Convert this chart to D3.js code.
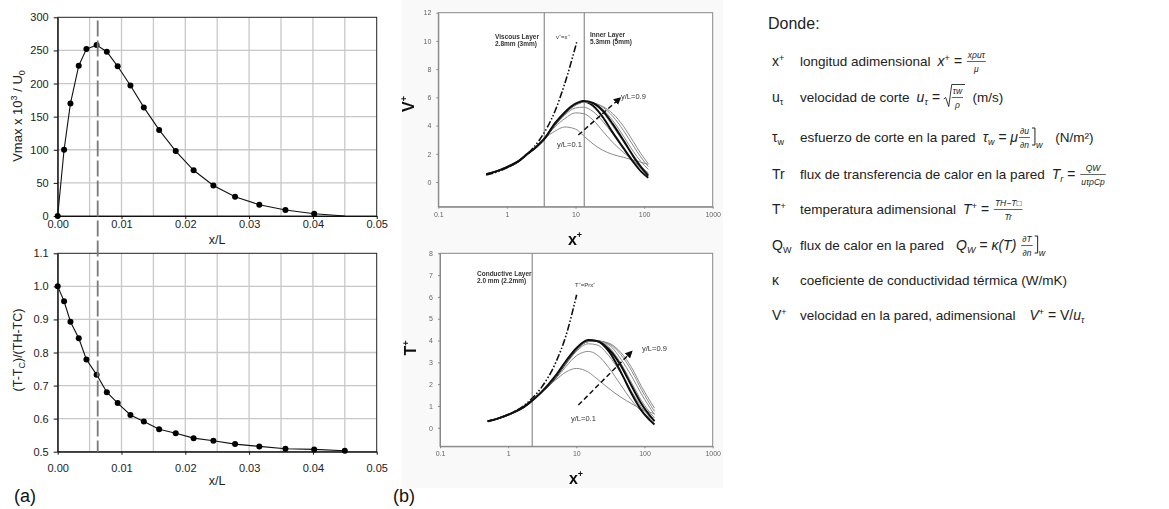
<!DOCTYPE html>
<html lang="es">
<head>
<meta charset="UTF-8">
<title>Vmax y temperatura adimensional</title>
<script src="https://cdn.jsdelivr.net/npm/d3@7"></script>
<style>
  body { margin: 0; background: #fff; }
  text { font-family: "Liberation Sans", Arial, sans-serif; }
</style>
</head>
<body>
<svg id="fig" width="1169" height="509"></svg>
<script>
// ---------- (a) datos ----------
var xL = [0, 0.001, 0.002, 0.0033, 0.0045, 0.0061, 0.0077, 0.0094, 0.0114, 0.0135,
          0.0159, 0.0185, 0.0213, 0.0244, 0.0278, 0.0316, 0.0357, 0.0402, 0.045];
var vmax = [0, 100, 170, 227, 252, 258, 248, 226, 197, 164, 130, 98, 69, 46, 29, 17, 9, 3.5, 0];
var tRatio = [1.0, 0.955, 0.893, 0.843, 0.779, 0.733, 0.680, 0.647, 0.611, 0.591,
              0.568, 0.556, 0.541, 0.533, 0.523, 0.516, 0.509, 0.507, 0.503];
var xRef = 0.00627;
var xTicksA = [0, 0.01, 0.02, 0.03, 0.04, 0.05];
var yTicksTop = [0, 50, 100, 150, 200, 250, 300];
var yTicksBot = [0.5, 0.6, 0.7, 0.8, 0.9, 1.0, 1.1];

// ---------- (b) datos (x+, valor) ----------
var vStart = [[0.5, 0.55], [0.7, 0.75], [1, 1.05], [1.5, 1.5], [2, 2.0], [2.7, 2.5], [3.5, 3.05]];
var vX = [5, 7, 10, 13, 18, 25, 35, 50, 70, 90, 115];
var vCurves = [
  [3.6, 3.9, 3.75, 3.3, 2.7, 2.25, 1.95, 1.75, 1.55, 1.4, 1.25],
  [3.9, 4.5, 4.9, 4.85, 4.4, 3.6, 2.8, 2.1, 1.5, 1.05, 0.65],
  [4.0, 4.75, 5.25, 5.3, 5.0, 4.3, 3.4, 2.4, 1.5, 0.95, 0.5],
  [4.1, 4.9, 5.5, 5.7, 5.4, 4.6, 3.5, 2.4, 1.4, 0.75, 0.3],
  [4.1, 4.9, 5.5, 5.7, 5.55, 4.95, 3.95, 2.85, 1.85, 1.15, 0.6],
  [4.1, 4.9, 5.45, 5.65, 5.6, 5.15, 4.35, 3.25, 2.15, 1.45, 0.9],
  [4.1, 4.9, 5.45, 5.65, 5.6, 5.3, 4.65, 3.65, 2.55, 1.75, 1.1],
  [4.1, 4.9, 5.45, 5.65, 5.6, 5.35, 4.85, 3.95, 2.85, 2.0, 1.3],
  [4.15, 4.95, 5.55, 5.75, 5.6, 5.05, 4.1, 2.95, 1.8, 1.05, 0.45]
];
var vEqX = [[0.5, 0.5], [1, 1], [2, 2], [3, 3], [5, 5], [7, 7], [10.4, 9.9]];

var tStart = [[0.5, 0.3], [0.7, 0.42], [1, 0.6], [1.5, 0.85], [2, 1.12], [3, 1.6]];
var tX = [5, 7, 10, 15, 20, 30, 45, 65, 90, 140];
var tCurves = [
  [2.2, 2.55, 2.72, 2.55, 2.25, 1.8, 1.4, 1.1, 0.85, 0.65],
  [2.25, 2.8, 3.3, 3.5, 3.35, 2.75, 1.95, 1.25, 0.75, 0.35],
  [2.3, 2.9, 3.5, 3.85, 3.8, 3.3, 2.5, 1.65, 0.95, 0.3],
  [2.35, 3.0, 3.6, 4.0, 3.98, 3.5, 2.55, 1.55, 0.8, 0.15],
  [2.35, 3.0, 3.6, 3.98, 4.0, 3.7, 2.95, 2.05, 1.25, 0.45],
  [2.35, 3.0, 3.6, 3.95, 3.98, 3.8, 3.15, 2.35, 1.55, 0.6],
  [2.35, 3.0, 3.6, 3.95, 3.98, 3.85, 3.35, 2.6, 1.75, 0.75],
  [2.35, 3.0, 3.6, 3.95, 3.98, 3.88, 3.45, 2.75, 1.9, 0.9],
  [2.4, 3.05, 3.65, 4.02, 3.98, 3.6, 2.85, 1.9, 1.1, 0.3]
];
var tEqPrX = [[0.5, 0.3], [1, 0.6], [2, 1.2], [3, 1.8], [5, 3.0], [7, 4.2], [10.1, 6.1]];
var xTicksB = [0.1, 1, 10, 100, 1000];
var yTicksBtop = [0, 2, 4, 6, 8, 10, 12];
var yTicksBbot = [0, 1, 2, 3, 4, 5, 6, 7, 8];
var layerV = [3.5, 13.4];
var layerT = [2.25];

// ---------- leyenda ----------
var symMain = ["x", "u", "τ", "Tr", "T", "Q", "κ", "V"];
var symSub  = ["", "τ", "w", "", "", "W", "", ""];
var symSup  = ["+", "", "", "", "+", "", "", "+"];
var descr = ["longitud adimensional", "velocidad de corte", "esfuerzo de corte en la pared",
  "flux de transferencia de calor en la pared", "temperatura adimensional",
  "flux de calor en la pared", "coeficiente de conductividad térmica (W/mK)",
  "velocidad en la pared, adimensional"];
var formulas = [
  [["gap", 3], ["m", "x"], ["sup", "+"], ["m", " = "], ["frac", "xρuτ", "μ"]],
  [["gap", 3], ["m", "u"], ["sub", "τ"], ["m", " = "], ["sqrt", "τw", "ρ"], ["s", "  (m/s)"]],
  [["gap", 3], ["m", "τ"], ["sub", "w"], ["m", " = μ"], ["frac", "∂u", "∂n"], ["bar", "w"], ["s", "   (N/m²)"]],
  [["gap", 3], ["m", "T"], ["sub", "r"], ["m", " = "], ["frac", "QW", "uτρCp"]],
  [["gap", 3], ["m", "T"], ["sup", "+"], ["m", " = "], ["frac", "TH−T□", "Tr"]],
  [["gap", 8], ["m", "Q"], ["sub", "W"], ["m", " = κ(T) "], ["frac", "∂T", "∂n"], ["bar", "w"]],
  [],
  [["gap", 10], ["m", "V"], ["sup", "+"], ["r", " = V/"], ["m", "u"], ["sub", "τ"]]
];

var svg = d3.select("#fig");
var SANS = '"Liberation Sans", Arial, sans-serif';
var SERIF = '"Liberation Serif", "DejaVu Serif", serif';

// ================= (a) =================
var xA = d3.scaleLinear().domain([0, 0.05]).range([57.7, 376.7]);
var yTop = d3.scaleLinear().domain([0, 300]).range([216, 17.3]);
var yBot = d3.scaleLinear().domain([0.5, 1.1]).range([451.7, 253.3]);
var gridX = d3.range(0, 0.0501, 0.005);

function panelA(ys, yTicks, series, fmt, padX, lastDot) {
  var g = svg.append("g");
  g.selectAll("line.gx").data(gridX.slice(1, -1)).enter().append("line")
    .attr("x1", d => xA(d)).attr("x2", d => xA(d))
    .attr("y1", ys.range()[0]).attr("y2", ys.range()[1])
    .attr("stroke", "#c8c8c8").attr("stroke-width", 1.3);
  g.selectAll("line.gy").data(yTicks.slice(1, -1)).enter().append("line")
    .attr("x1", xA.range()[0]).attr("x2", xA.range()[1])
    .attr("y1", d => ys(d)).attr("y2", d => ys(d))
    .attr("stroke", "#c8c8c8").attr("stroke-width", 1.3);
  g.append("rect").attr("x", xA.range()[0]).attr("y", ys.range()[1])
    .attr("width", xA.range()[1] - xA.range()[0]).attr("height", ys.range()[0] - ys.range()[1])
    .attr("fill", "none").attr("stroke", "#222").attr("stroke-width", 1);

  var ax = g.append("g").attr("transform", "translate(0," + ys.range()[0] + ")")
    .call(d3.axisBottom(xA).tickValues(xTicksA).tickFormat(d3.format(".2f"))
      .tickSize(3).tickSizeOuter(0).tickPadding(padX));
  var ay = g.append("g").attr("transform", "translate(" + xA.range()[0] + ",0)")
    .call(d3.axisLeft(ys).tickValues(yTicks).tickFormat(fmt).tickSize(4).tickSizeOuter(0).tickPadding(5));
  [ax, ay].forEach(a => {
    a.select(".domain").attr("stroke", "#111");
    a.selectAll("line").attr("stroke", "#111");
    a.selectAll("text").attr("font-size", 11).attr("fill", "#222").attr("font-family", SANS);
  });

  var pts = xL.map((x, i) => [x, series[i]]);
  g.append("path").attr("d", d3.line().x(d => xA(d[0])).y(d => ys(d[1]))(pts))
    .attr("fill", "none").attr("stroke", "#111").attr("stroke-width", 1.1);
  g.selectAll("circle").data(lastDot ? pts : pts.slice(0, -1)).enter().append("circle")
    .attr("cx", d => xA(d[0])).attr("cy", d => ys(d[1])).attr("r", 3).attr("fill", "#000");
  return g;
}
panelA(yTop, yTicksTop, vmax, d3.format("d"), 1, false);
panelA(yBot, yTicksBot, tRatio, d3.format(".1f"), 9.5, true);

// linea de referencia discontinua
svg.append("line").attr("x1", xA(xRef)).attr("x2", xA(xRef))
  .attr("y1", yTop(295)).attr("y2", yBot(0.5))
  .attr("stroke", "#7a7a7a").attr("stroke-width", 1.8).attr("stroke-dasharray", "16,4");

svg.append("text").attr("x", 217).attr("y", 244).attr("text-anchor", "middle")
  .attr("font-size", 12.5).attr("fill", "#222").text("x/L");
svg.append("text").attr("x", 217).attr("y", 485).attr("text-anchor", "middle")
  .attr("font-size", 12.5).attr("fill", "#222").text("x/L");

var t1 = svg.append("text").attr("transform", "translate(22,116) rotate(-90)")
  .attr("text-anchor", "middle").attr("font-size", 13).attr("fill", "#222");
t1.append("tspan").text("Vmax x 10");
t1.append("tspan").attr("dy", -5).attr("font-size", 9).text("3");
t1.append("tspan").attr("dy", 5).text(" /  U");
t1.append("tspan").attr("dy", 3).attr("font-size", 9).text("0");

var t2 = svg.append("text").attr("transform", "translate(22,350) rotate(-90)")
  .attr("text-anchor", "middle").attr("font-size", 12.5).attr("fill", "#222");
t2.append("tspan").text("(T-T");
t2.append("tspan").attr("dy", 3).attr("font-size", 9).text("C");
t2.append("tspan").attr("dy", -3).text(")/(TH-TC)");

svg.append("text").attr("x", 14).attr("y", 502).attr("font-size", 18).attr("fill", "#111").text("(a)");

// ================= (b) =================
svg.append("rect").attr("x", 402).attr("y", 0).attr("width", 321).attr("height", 488).attr("fill", "#f9f9f9");
svg.append("text").attr("x", 393).attr("y", 502).attr("font-size", 18).attr("fill", "#111").text("(b)");

var defs = svg.append("defs");
defs.append("filter").attr("id", "soft").append("feGaussianBlur").attr("stdDeviation", 0.35);
defs.append("marker").attr("id", "arr").attr("viewBox", "0 0 10 10").attr("refX", 8).attr("refY", 5)
  .attr("markerWidth", 5).attr("markerHeight", 5).attr("orient", "auto")
  .append("path").attr("d", "M0,0L10,5L0,10Z").attr("fill", "#111");

function panelB(cfg) {
  var g = svg.append("g").attr("filter", "url(#soft)");
  var xs = cfg.xs, ys = cfg.ys;
  g.append("rect").attr("x", xs.range()[0]).attr("y", ys.range()[1])
    .attr("width", xs.range()[1] - xs.range()[0]).attr("height", ys.range()[0] - ys.range()[1])
    .attr("fill", "#fff").attr("stroke", "#888").attr("stroke-width", 1);
  var ax = g.append("g").attr("transform", "translate(0," + ys.range()[0] + ")")
    .call(d3.axisBottom(xs).tickValues(xTicksB).tickFormat(d3.format("~g")).tickSize(2).tickSizeOuter(0).tickPadding(3));
  var ay = g.append("g").attr("transform", "translate(" + xs.range()[0] + ",0)")
    .call(d3.axisLeft(ys).tickValues(cfg.yTicks).tickSize(2).tickSizeOuter(0).tickPadding(5));
  [ax, ay].forEach(a => {
    a.select(".domain").attr("stroke", "#888");
    a.selectAll("line").attr("stroke", "#888");
    a.selectAll("text").attr("font-size", 7).attr("fill", "#666").attr("font-family", SANS);
  });

  cfg.layers.forEach(v => {
    g.append("line").attr("x1", xs(v)).attr("x2", xs(v)).attr("y1", ys.range()[0]).attr("y2", ys.range()[1])
      .attr("stroke", "#777").attr("stroke-width", 1);
  });

  var line = d3.line().x(d => xs(d[0])).y(d => ys(d[1])).curve(d3.curveMonotoneX);
  cfg.curves.forEach((c, i) => {
    var bold = (i === 3 || i === 8);
    var pts = cfg.start.concat(cfg.tailX.map((x, j) => [x, c[j]]));
    g.append("path").attr("d", line(pts)).attr("fill", "none")
      .attr("stroke", bold ? "#111" : "#8a8a8a").attr("stroke-width", bold ? 2 : 1);
  });
  g.append("path").attr("d", line(cfg.eq)).attr("fill", "none").attr("stroke", "#111")
    .attr("stroke-width", 1.6).attr("stroke-dasharray", "7,2,1.5,2,1.5,2");

  g.append("line").attr("x1", xs(cfg.arrow[0][0])).attr("y1", ys(cfg.arrow[0][1]))
    .attr("x2", xs(cfg.arrow[1][0])).attr("y2", ys(cfg.arrow[1][1]))
    .attr("stroke", "#111").attr("stroke-width", 1.5).attr("stroke-dasharray", "5,3")
    .attr("marker-end", "url(#arr)");

  cfg.notes.forEach(n => {
    var t = g.append("text").attr("x", n.x).attr("y", n.y).attr("font-size", n.size || 6.5)
      .attr("fill", "#333").attr("font-weight", n.bold ? "bold" : "normal");
    n.lines.forEach((l, k) => t.append("tspan").attr("x", n.x).attr("dy", k ? 6.5 : 0).text(l));
  });

  var xt = g.append("text").attr("x", cfg.xTitle[0]).attr("y", cfg.xTitle[1]).attr("text-anchor", "middle")
    .attr("font-size", 16).attr("font-weight", "bold").attr("fill", "#111");
  xt.append("tspan").text("x");
  xt.append("tspan").attr("dy", -7).attr("font-size", 9).text("+");
  var yt = g.append("text").attr("transform", "translate(" + cfg.yTitle[0] + "," + cfg.yTitle[1] + ") rotate(-90)")
    .attr("text-anchor", "middle").attr("font-size", 16).attr("font-weight", "bold").attr("fill", "#111");
  yt.append("tspan").text(cfg.yName);
  yt.append("tspan").attr("dy", -7).attr("font-size", 9).text("+");
}

var xBt = d3.scaleLog().domain([0.1, 1000]).range([438.3, 712.7]);
var yBt = d3.scaleLinear().domain([-1.75, 12]).range([206.7, 12.7]);
panelB({
  xs: xBt, ys: yBt, yTicks: yTicksBtop, layers: layerV, start: vStart, tailX: vX,
  curves: vCurves, eq: vEqX, arrow: [[11, 3.33], [44.6, 5.94]],
  notes: [
    {x: 495, y: 39, bold: true, lines: ["Viscous Layer", "2.8mm (3mm)"]},
    {x: 590, y: 37, bold: true, lines: ["Inner Layer", "5.3mm (5mm)"]},
    {x: 556, y: 39, lines: ["v⁺=x⁺"], size: 6},
    {x: 621, y: 99, lines: ["y/L=0.9"], size: 7.5},
    {x: 557, y: 147, lines: ["y/L=0.1"], size: 7.5}
  ],
  xTitle: [575, 245], yTitle: [414, 104], yName: "V"
});

var xBb = d3.scaleLog().domain([0.1, 1000]).range([440, 712.7]);
var yBb = d3.scaleLinear().domain([-0.85, 8]).range([446.3, 253.3]);
panelB({
  xs: xBb, ys: yBb, yTicks: yTicksBbot, layers: layerT, start: tStart, tailX: tX,
  curves: tCurves, eq: tEqPrX, arrow: [[10.7, 1.04], [64.7, 3.49]],
  notes: [
    {x: 477, y: 276, bold: true, lines: ["Conductive Layer", "2.0 mm (2.2mm)"]},
    {x: 575, y: 287, lines: ["T⁺=Prx⁺"], size: 6},
    {x: 642, y: 351, lines: ["y/L=0.9"], size: 7.5},
    {x: 571, y: 421, lines: ["y/L=0.1"], size: 7.5}
  ],
  xTitle: [576, 484], yTitle: [416, 348], yName: "T"
});

// ================= leyenda =================
var leg = svg.append("g");
leg.append("text").attr("x", 768).attr("y", 29).attr("font-size", 16).attr("fill", "#222").text("Donde:");
var rowY = [66, 102, 142, 179, 214, 250, 285, 320];

function put(x, y, str, size, serif, italic) {
  var t = leg.append("text").attr("x", x).attr("y", y).attr("font-size", size).attr("fill", "#222")
    .attr("font-family", serif ? SERIF : SANS).attr("font-style", italic ? "italic" : "normal")
    .attr("xml:space", "preserve").style("white-space", "pre").text(str);
  return t.node().getComputedTextLength();
}

rowY.forEach((y, i) => {
  // simbolo
  var sx = 772;
  sx += put(sx, y, symMain[i], 14, false, false);
  if (symSub[i]) put(sx, y + 3, symSub[i], 9, false, false);
  if (symSup[i]) put(sx, y - 5, symSup[i], 9, false, false);
  // descripcion
  var cx = 800 + put(800, y, descr[i], 13.5, false, false) + 4;
  formulas[i].forEach(tok => {
    var k = tok[0];
    if (k === "gap") cx += tok[1];
    else if (k === "m") cx += put(cx, y, tok[1], 14, true, true);
    else if (k === "r") cx += put(cx, y, tok[1], 14, true, false);
    else if (k === "s") cx += put(cx, y, tok[1], 13.5, false, false);
    else if (k === "sub") cx += put(cx, y + 3, tok[1], 9, true, true);
    else if (k === "sup") cx += put(cx, y - 5, tok[1], 9, true, false);
    else if (k === "frac" || k === "sqrt") {
      var x0 = cx + (k === "sqrt" ? 8 : 1);
      var wn = put(x0, y - 8, tok[1], 8.5, true, true);
      var wd = put(x0, y + 6, tok[2], 8.5, true, true);
      var w = Math.max(wn, wd) + 2;
      leg.selectAll("text").filter(function () { return +this.getAttribute("x") === x0; })
        .each(function () {
          var tw = this.getComputedTextLength();
          d3.select(this).attr("x", x0 + (w - tw) / 2);
        });
      leg.append("line").attr("x1", x0).attr("x2", x0 + w).attr("y1", y - 4.5).attr("y2", y - 4.5)
        .attr("stroke", "#222").attr("stroke-width", 0.7);
      if (k === "sqrt") {
        leg.append("path").attr("d", "M" + (cx) + "," + (y - 3) + "l2,-1.5l3,9l3,-22h" + (w + 2))
          .attr("fill", "none").attr("stroke", "#222").attr("stroke-width", 0.9);
      }
      cx = x0 + w + 2;
    } else if (k === "bar") {
      leg.append("path").attr("d", "M" + cx + "," + (y - 14) + "h3v17h-3")
        .attr("fill", "none").attr("stroke", "#222").attr("stroke-width", 1);
      put(cx + 4, y + 6, tok[1], 9, true, true);
      cx += 12;
    }
  });
});
</script>
</body>
</html>
